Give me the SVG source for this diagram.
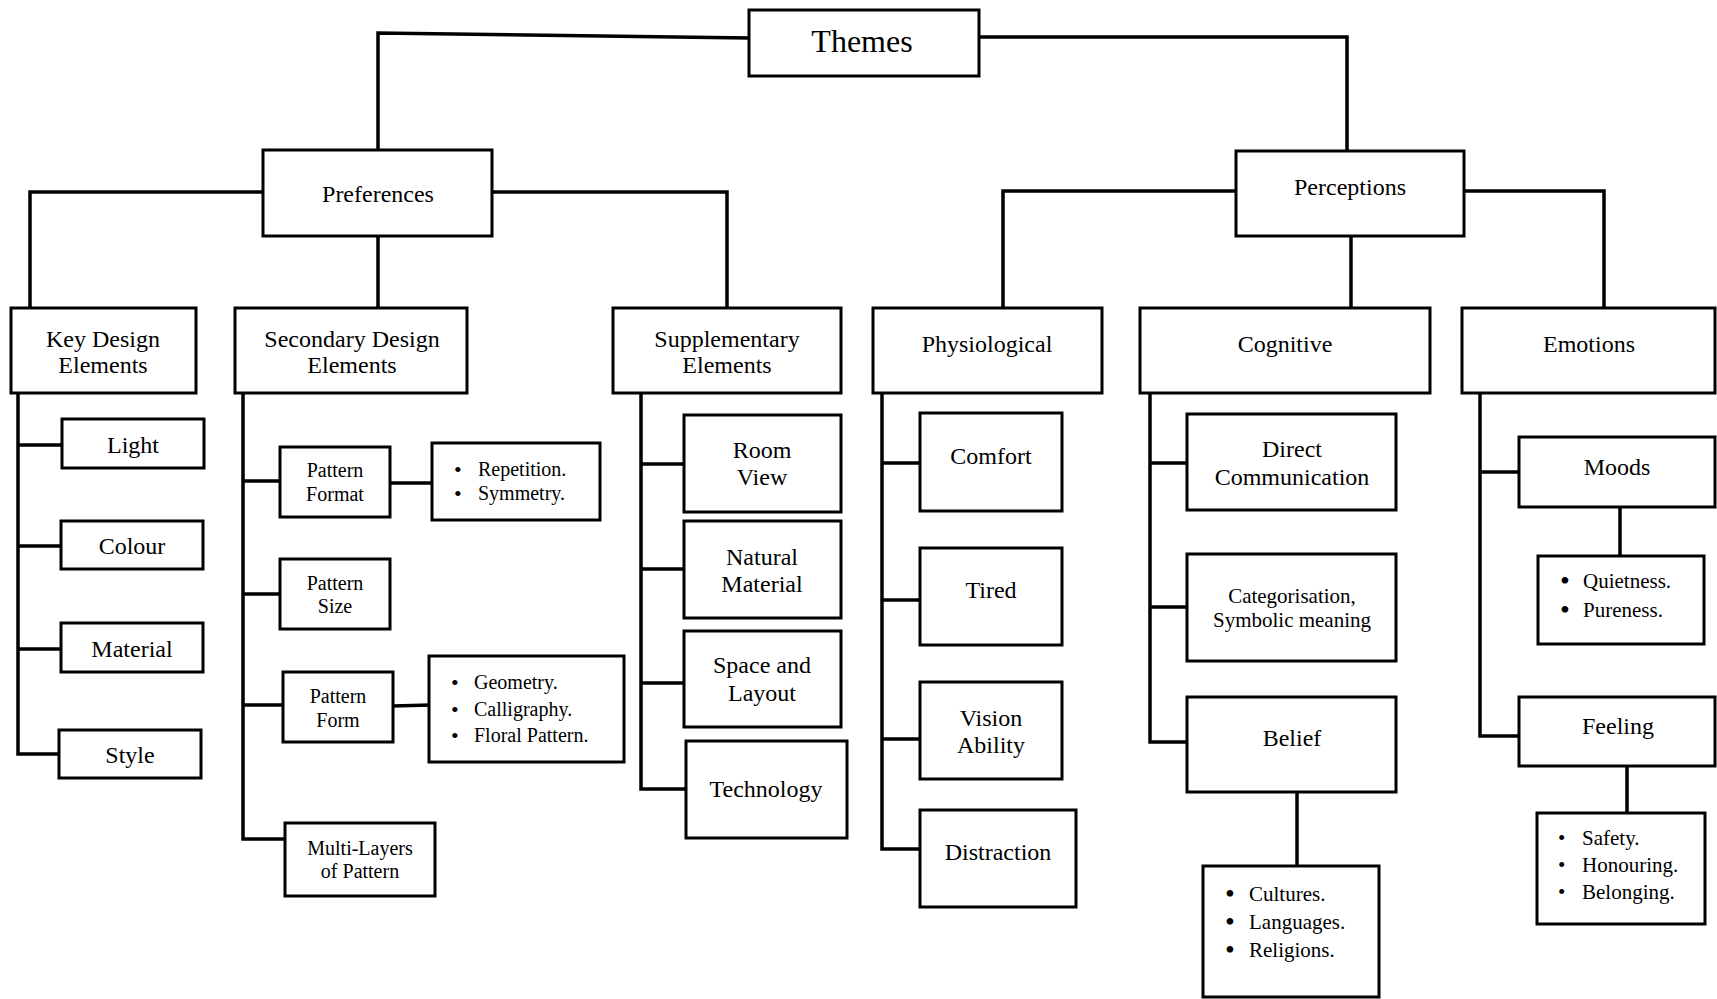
<svg xmlns="http://www.w3.org/2000/svg" width="1717" height="999" viewBox="0 0 1717 999">
<style>
rect{fill:#fff;stroke:#000;stroke-width:3}
path{fill:none;stroke:#000;stroke-width:3.5;stroke-linecap:square}
text{font-family:"Liberation Serif","Times New Roman",serif;fill:#000;font-size:24px}
.c{text-anchor:middle}
.s{font-size:20px}
.m{font-size:21px}
.t{font-size:32px}
.b{font-size:28px}
.bs{font-size:22px}
</style>
<rect width="1717" height="999" style="fill:#fff;stroke:none"/>
<g id="connectors">
<path d="M749,38 L378,33 L378,150"/>
<path d="M979,37 L1347,37 L1347,151"/>
<path d="M263,192 L30,192 L30,308"/>
<path d="M378,236 L378,308"/>
<path d="M492,192 L727,192 L727,308"/>
<path d="M1236,191 L1003,191 L1003,308"/>
<path d="M1351,236 L1351,308"/>
<path d="M1464,191 L1604,191 L1604,308"/>
<path d="M18,393 V754 M18,445 H62 M18,546 H61 M18,649 H61 M18,754 H59"/>
<path d="M243,393 V839 M243,481 H280 M243,594 H280 M243,705 H283 M243,839 H285"/>
<path d="M390,483 H432"/>
<path d="M393,706 L429,705"/>
<path d="M641,393 V789 M641,464 H684 M641,569 H684 M641,683 H684 M641,789 H686"/>
<path d="M882,393 V849 M882,463 H920 M882,600 H920 M882,739 H920 M882,849 H920"/>
<path d="M1150,393 V742 M1150,463 H1187 M1150,607 H1187 M1150,742 H1187"/>
<path d="M1297,792 V866"/>
<path d="M1480,393 V736 M1480,472 H1519 M1480,736 H1519"/>
<path d="M1620,507 V556"/>
<path d="M1627,766 V813"/>
</g>
<g id="themes"><rect x="749" y="10" width="230" height="66"/><text class="c t" x="862" y="52">Themes</text></g>
<g id="preferences"><rect x="263" y="150" width="229" height="86"/><text class="c" x="378" y="202">Preferences</text></g>
<g id="perceptions"><rect x="1236" y="151" width="228" height="85"/><text class="c" x="1350" y="195">Perceptions</text></g>
<g id="key-design"><rect x="11" y="308" width="185" height="85"/><text class="c" x="103" y="347">Key Design</text><text class="c" x="103" y="373">Elements</text></g>
<g id="secondary-design"><rect x="235" y="308" width="232" height="85"/><text class="c" x="352" y="347">Secondary Design</text><text class="c" x="352" y="373">Elements</text></g>
<g id="supplementary"><rect x="613" y="308" width="228" height="85"/><text class="c" x="727" y="347">Supplementary</text><text class="c" x="727" y="373">Elements</text></g>
<g id="physiological"><rect x="873" y="308" width="229" height="85"/><text class="c" x="987" y="352">Physiological</text></g>
<g id="cognitive"><rect x="1140" y="308" width="290" height="85"/><text class="c" x="1285" y="352">Cognitive</text></g>
<g id="emotions"><rect x="1462" y="308" width="253" height="85"/><text class="c" x="1589" y="352">Emotions</text></g>
<g id="light"><rect x="62" y="419" width="142" height="49"/><text class="c" x="133" y="453">Light</text></g>
<g id="colour"><rect x="61" y="521" width="142" height="48"/><text class="c" x="132" y="554">Colour</text></g>
<g id="material"><rect x="61" y="623" width="142" height="49"/><text class="c" x="132" y="657">Material</text></g>
<g id="style"><rect x="59" y="730" width="142" height="48"/><text class="c" x="130" y="763">Style</text></g>
<g id="pattern-format"><rect x="280" y="447" width="110" height="70"/><text class="c s" x="335" y="477">Pattern</text><text class="c s" x="335" y="501">Format</text></g>
<g id="format-list"><rect x="432" y="443" width="168" height="77"/><text class="s" x="454" y="476"><tspan class="bs" dy="1">•</tspan><tspan x="478" dy="-1">Repetition.</tspan></text><text class="s" x="454" y="500"><tspan class="bs" dy="1">•</tspan><tspan x="478" dy="-1">Symmetry.</tspan></text></g>
<g id="pattern-size"><rect x="280" y="559" width="110" height="70"/><text class="c s" x="335" y="590">Pattern</text><text class="c s" x="335" y="613">Size</text></g>
<g id="pattern-form"><rect x="283" y="672" width="110" height="70"/><text class="c s" x="338" y="703">Pattern</text><text class="c s" x="338" y="727">Form</text></g>
<g id="form-list"><rect x="429" y="656" width="195" height="106"/><text class="s" x="451" y="689"><tspan class="bs" dy="1">•</tspan><tspan x="474" dy="-1">Geometry.</tspan></text><text class="s" x="451" y="716"><tspan class="bs" dy="1">•</tspan><tspan x="474" dy="-1">Calligraphy.</tspan></text><text class="s" x="451" y="742"><tspan class="bs" dy="1">•</tspan><tspan x="474" dy="-1">Floral Pattern.</tspan></text></g>
<g id="multi-layers"><rect x="285" y="823" width="150" height="73"/><text class="c s" x="360" y="855">Multi-Layers</text><text class="c s" x="360" y="878">of Pattern</text></g>
<g id="room-view"><rect x="684" y="415" width="157" height="97"/><text class="c" x="762" y="458">Room</text><text class="c" x="762" y="485">View</text></g>
<g id="natural-material"><rect x="684" y="521" width="157" height="97"/><text class="c" x="762" y="565">Natural</text><text class="c" x="762" y="592">Material</text></g>
<g id="space-layout"><rect x="684" y="631" width="157" height="96"/><text class="c" x="762" y="673">Space and</text><text class="c" x="762" y="701">Layout</text></g>
<g id="technology"><rect x="686" y="741" width="161" height="97"/><text class="c" x="766" y="797">Technology</text></g>
<g id="comfort"><rect x="920" y="413" width="142" height="98"/><text class="c" x="991" y="464">Comfort</text></g>
<g id="tired"><rect x="920" y="548" width="142" height="97"/><text class="c" x="991" y="598">Tired</text></g>
<g id="vision-ability"><rect x="920" y="682" width="142" height="97"/><text class="c" x="991" y="726">Vision</text><text class="c" x="991" y="753">Ability</text></g>
<g id="distraction"><rect x="920" y="810" width="156" height="97"/><text class="c" x="998" y="860">Distraction</text></g>
<g id="direct-communication"><rect x="1187" y="414" width="209" height="96"/><text class="c" x="1292" y="457">Direct</text><text class="c" x="1292" y="485">Communication</text></g>
<g id="categorisation"><rect x="1187" y="554" width="209" height="107"/><text class="c m" x="1292" y="603">Categorisation,</text><text class="c m" x="1292" y="627">Symbolic meaning</text></g>
<g id="belief"><rect x="1187" y="697" width="209" height="95"/><text class="c" x="1292" y="746">Belief</text></g>
<g id="belief-list"><rect x="1203" y="866" width="176" height="131"/><text class="m" x="1225" y="901"><tspan class="b" dy="2">•</tspan><tspan x="1249" dy="-2">Cultures.</tspan></text><text class="m" x="1225" y="929"><tspan class="b" dy="2">•</tspan><tspan x="1249" dy="-2">Languages.</tspan></text><text class="m" x="1225" y="957"><tspan class="b" dy="2">•</tspan><tspan x="1249" dy="-2">Religions.</tspan></text></g>
<g id="moods"><rect x="1519" y="437" width="196" height="70"/><text class="c" x="1617" y="475">Moods</text></g>
<g id="moods-list"><rect x="1538" y="556" width="166" height="88"/><text class="m" x="1560" y="588"><tspan class="b" dy="2">•</tspan><tspan x="1583" dy="-2">Quietness.</tspan></text><text class="m" x="1560" y="617"><tspan class="b" dy="2">•</tspan><tspan x="1583" dy="-2">Pureness.</tspan></text></g>
<g id="feeling"><rect x="1519" y="697" width="196" height="69"/><text class="c" x="1618" y="734">Feeling</text></g>
<g id="feeling-list"><rect x="1537" y="813" width="168" height="111"/><text class="m" x="1558" y="845">•<tspan x="1582">Safety.</tspan></text><text class="m" x="1558" y="872">•<tspan x="1582">Honouring.</tspan></text><text class="m" x="1558" y="899">•<tspan x="1582">Belonging.</tspan></text></g>
</svg>
